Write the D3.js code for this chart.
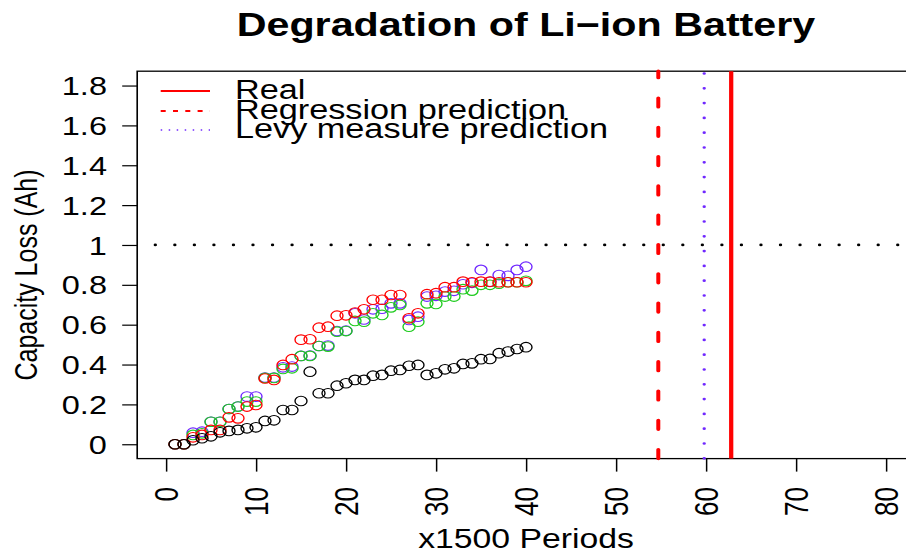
<!DOCTYPE html>
<html><head><meta charset="utf-8">
<script src="https://cdn.jsdelivr.net/npm/d3@7"></script>
<style>
html,body{margin:0;padding:0;background:#fff;overflow:hidden}
svg{display:block}
text{font-family:"Liberation Sans",Arial,Helvetica,sans-serif;fill:#000}
</style>
</head><body>
<svg id="chart" width="906" height="556"></svg>
<script>
// ---------------- data ----------------
const periods = [1,2,3,4,5,6,7,8,9,10,11,12,13,14,15,16,17,18,19,20,21,22,23,24,25,26,27,28,29,30,31,32,33,34,35,36,37,38,39,40];
const lossBlack = [0,0,0.02,0.03,0.04,0.06,0.067,0.072,0.08,0.085,0.117,0.12,0.172,0.172,0.217,0.364,0.256,0.256,0.294,0.306,0.323,0.323,0.344,0.348,0.369,0.373,0.394,0.398,0.348,0.356,0.376,0.381,0.403,0.406,0.427,0.428,0.457,0.465,0.478,0.487];
const lossRed = [0,0,0.035,0.047,0.072,0.072,0.135,0.13,0.189,0.197,0.33,0.323,0.398,0.427,0.525,0.527,0.585,0.59,0.645,0.647,0.661,0.677,0.725,0.725,0.749,0.749,0.632,0.657,0.753,0.758,0.788,0.788,0.816,0.813,0.816,0.816,0.813,0.813,0.813,0.813];
const lossGreen = [0,0,0.047,0.055,0.113,0.113,0.177,0.189,0.214,0.214,0.333,0.333,0.378,0.381,0.443,0.443,0.493,0.49,0.565,0.568,0.619,0.615,0.657,0.649,0.687,0.699,0.59,0.615,0.707,0.704,0.741,0.741,0.778,0.771,0.8,0.8,0.806,0.813,0.813,0.82];
const lossBlue = [0,0,0.058,0.063,0.113,0.113,0.177,0.189,0.239,0.239,0.335,0.335,0.386,0.39,0.443,0.445,0.493,0.495,0.568,0.57,0.657,0.626,0.677,0.68,0.707,0.707,0.624,0.64,0.741,0.745,0.766,0.77,0.803,0.81,0.875,0.815,0.849,0.845,0.875,0.891];
const yTicks = [0,0.2,0.4,0.6,0.8,1,1.2,1.4,1.6,1.8];
const yTickLabels = ["0","0.2","0.4","0.6","0.8","1","1.2","1.4","1.6","1.8"];
const xTicks = [0,10,20,30,40,50,60,70,80];
const xTickLabels = ["0","10","20","30","40","50","60","70","80"];
const legendLabels = ["Real","Regression prediction","Levy measure prediction"];
const threshold = 1;
const lifeReal = 62.8;
const lifeRegression = 54.7;
const lifeLevy = 59.8;

// ---------------- layout ----------------
const SX = 1.25;             // horizontal stretch of the original picture
const RED = "#ff0000", GREEN = "#1ecb1e", BLUE = "#7028ff", BLACK = "#000";
const svg = d3.select("#chart");
const root = svg.append("g").attr("transform", `scale(${SX},1)`);

const x = d3.scaleLinear().domain([-3.2, 83.2]).range([137.2 / SX, 914.8 / SX]);
const y = d3.scaleLinear().domain([-0.072, 1.872]).range([458.6, 71.2]);
const [x0, x1] = x.range();
const [yb, yt] = y.range();

// title
root.append("text").attr("x", 526 / SX).attr("y", 36)
  .attr("text-anchor", "middle").attr("font-weight", "bold").attr("font-size", 33)
  .text("Degradation of Li\u2212ion Battery");

// y axis
const yAxis = d3.axisLeft(y).tickValues(yTicks)
  .tickFormat((d, i) => yTickLabels[i]).tickSize(12).tickPadding(12.2);
const gy = root.append("g").attr("transform", `translate(${x0},0)`).call(yAxis);
gy.select(".domain").remove();
gy.selectAll(".tick line").attr("stroke", "#000").attr("stroke-width", 1.2);
gy.selectAll(".tick text").attr("font-size", 26).attr("font-family", null).attr("dy", "0.35em");

// x axis
const xAxis = d3.axisBottom(x).tickValues(xTicks).tickFormat((d, i) => xTickLabels[i]).tickSize(13);
const gx = root.append("g").attr("transform", `translate(0,${yb})`).call(xAxis);
gx.select(".domain").remove();
gx.selectAll(".tick line").attr("stroke", "#000").attr("stroke-width", 1.2);
gx.selectAll(".tick text")
  .attr("font-size", 26).attr("font-family", null)
  .attr("y", 0).attr("dy", "0.36em")
  .attr("text-anchor", "end")
  .attr("transform", `translate(0,${487 - yb}) rotate(-90)`);

// axis titles
root.append("text").attr("x", 526 / SX).attr("y", 548)
  .attr("text-anchor", "middle").attr("font-size", 27).text("x1500 Periods");
root.append("text")
  .attr("transform", `translate(${37 / SX},${275}) rotate(-90)`)
  .attr("text-anchor", "middle").attr("font-size", 25).text("Capacity Loss (Ah)");

// plot box
root.append("rect").attr("x", x0).attr("y", yt).attr("width", x1 - x0).attr("height", yb - yt)
  .attr("fill", "none").attr("stroke", "#000").attr("stroke-width", 1.3);

// threshold (dotted black)
root.append("line")
  .attr("x1", x0).attr("x2", x1).attr("y1", y(threshold)).attr("y2", y(threshold))
  .attr("stroke", BLACK).attr("stroke-width", 2.7).attr("stroke-linecap", "round")
  .attr("stroke-dasharray", "0 15.63").attr("stroke-dashoffset", 1.15);

// prediction / real vertical lines
root.append("line")
  .attr("x1", x(lifeRegression)).attr("x2", x(lifeRegression)).attr("y1", yb).attr("y2", yt)
  .attr("stroke", RED).attr("stroke-width", 3.2).attr("stroke-linecap", "round")
  .attr("stroke-dasharray", "9 20.3");
root.append("line")
  .attr("x1", x(lifeLevy)).attr("x2", x(lifeLevy)).attr("y1", yt).attr("y2", yb)
  .attr("stroke", BLUE).attr("stroke-width", 2.7).attr("stroke-linecap", "round")
  .attr("stroke-dasharray", "0 14.8").attr("stroke-dashoffset", 12.5);
root.append("line")
  .attr("x1", x(lifeReal)).attr("x2", x(lifeReal)).attr("y1", yt).attr("y2", yb)
  .attr("stroke", RED).attr("stroke-width", 3.4);

// points
const series = [
  {vals: lossBlue, color: BLUE},
  {vals: lossGreen, color: GREEN},
  {vals: lossRed, color: RED},
  {vals: lossBlack, color: BLACK}
];
series.forEach(s => {
  root.append("g").selectAll("circle").data(periods).join("circle")
    .attr("cx", d => x(d)).attr("cy", (d, i) => y(s.vals[i])).attr("r", 4.8)
    .attr("fill", "none").attr("stroke", s.color).attr("stroke-width", 1.1);
});

// legend
const legY = [91, 111, 130];
const legStyles = [
  {color: RED, dash: null, w: 1.8},
  {color: RED, dash: "4 5.84", w: 1.8},
  {color: BLUE, dash: "1.2 5.2", w: 1.5}
];
const leg = root.append("g");
legendLabels.forEach((lab, i) => {
  leg.append("line").attr("x1", 160.7 / SX).attr("x2", 210 / SX).attr("y1", legY[i]).attr("y2", legY[i])
    .attr("stroke", legStyles[i].color).attr("stroke-width", legStyles[i].w)
    .attr("stroke-dasharray", legStyles[i].dash);
  leg.append("text").attr("x", 235 / SX).attr("y", legY[i] + 8.5).attr("font-size", 27.4).text(lab);
});
</script>
</body></html>
